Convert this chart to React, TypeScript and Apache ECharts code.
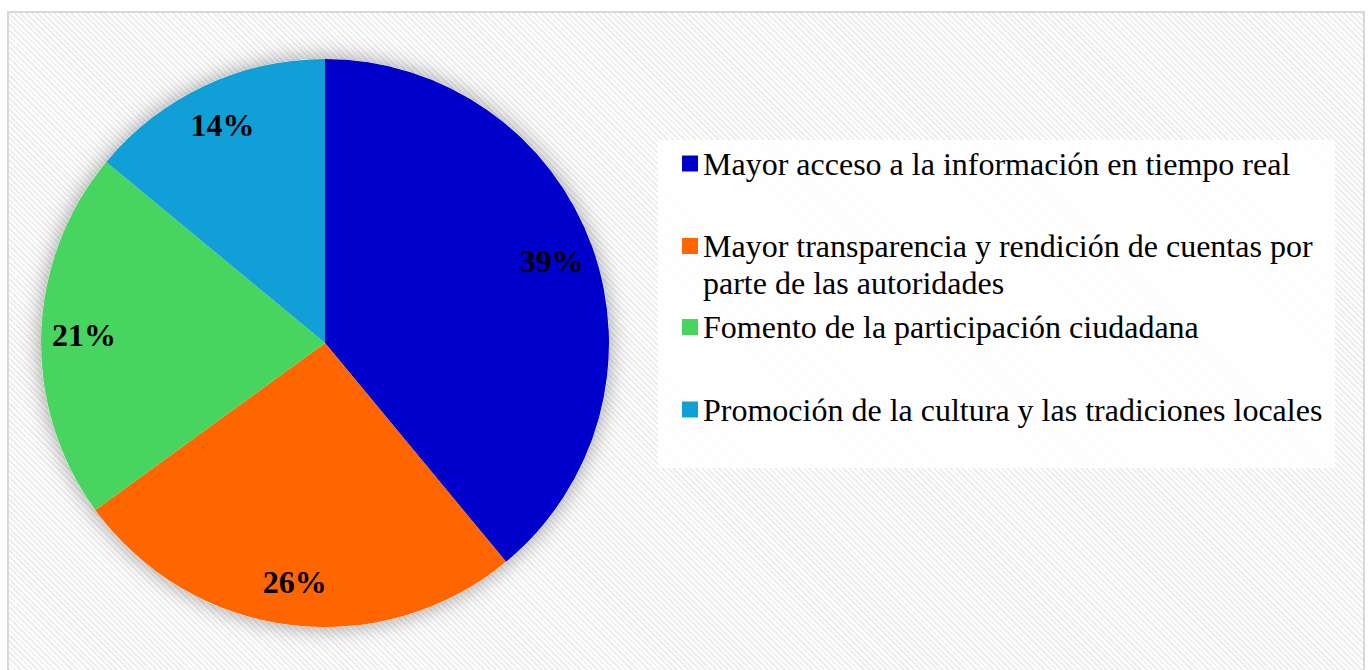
import React, { useEffect, useRef } from "react";
import * as echarts from "echarts";

// ---- data ----
const categories = [
  "Mayor acceso a la información en tiempo real",
  "Mayor transparencia y rendición de cuentas por parte de las autoridades",
  "Fomento de la participación ciudadana",
  "Promoción de la cultura y las tradiciones locales",
];
const legendLines = [
  ["Mayor acceso a la información en tiempo real"],
  ["Mayor transparencia y rendición de cuentas por", "parte de las autoridades"],
  ["Fomento de la participación ciudadana"],
  ["Promoción de la cultura y las tradiciones locales"],
];
const values = [39, 26, 21, 14];
const colors = ["#0000CC", "#FF6600", "#48D55F", "#119FD7"];

// ---- layout (page coords converted to chart coords) ----
const OX = 9;
const OY = 13;
const R = 284;
const CENTER = [325 - OX, 343 - OY];
const LABEL_INNER = 192;
const LEGEND_LEFT = 682 - OX;
const LEGEND_CENTERS = [163.5 - OY, 246 - OY, 327 - OY, 409.5 - OY];
const FONT = "'Liberation Serif', 'Times New Roman', serif";

export default function App() {
  const ref = useRef<HTMLDivElement>(null);

  useEffect(() => {
    if (!ref.current) return;
    const chart = echarts.init(ref.current, undefined, { renderer: "svg" });
    const total = values.reduce((a, b) => a + b, 0);

    const legends = categories.map((name, i) => {
      const twoLine = legendLines[i].length > 1;
      return {
        show: true,
        orient: "vertical",
        left: LEGEND_LEFT,
        top: LEGEND_CENTERS[i] - 18.5,
        padding: 0,
        data: [name],
        selectedMode: false,
        itemWidth: 16,
        itemHeight: twoLine ? 53 : 16,
        icon: twoLine ? "path://M0 0H16V16H0Z M0 53" : "rect",
        formatter: () => legendLines[i].join("\n"),
        textStyle: {
          fontFamily: FONT,
          fontSize: 32,
          lineHeight: 37,
          color: "#000",
        },
      };
    });

    chart.setOption({
      animation: false,
      backgroundColor: "transparent",
      graphic: [
        {
          type: "rect",
          left: 658 - OX,
          top: 140 - OY,
          shape: { width: 677, height: 328 },
          style: { fill: "rgba(255,255,255,0.88)" },
          z: -1,
          silent: true,
        },
      ],
      legend: legends,
      series: [
        {
          type: "pie",
          name: "bg",
          center: CENTER,
          radius: R,
          silent: true,
          z: 1,
          legendHoverLink: false,
          data: [{ value: total, name: "__bg" }],
          itemStyle: {
            color: "#ffffff",
            borderWidth: 0,
            shadowBlur: 22,
            shadowColor: "rgba(0,0,0,0.38)",
          },
          label: { show: false },
          labelLine: { show: false },
          emphasis: { disabled: true },
        },
        {
          type: "pie",
          name: "data",
          center: CENTER,
          radius: R,
          startAngle: 90,
          clockwise: true,
          z: 2,
          data: categories.map((n, i) => ({
            name: n,
            value: values[i],
            itemStyle: { color: colors[i] },
          })),
          itemStyle: { borderWidth: 0 },
          label: { show: false },
          labelLine: { show: false },
          emphasis: { disabled: true },
        },
        {
          type: "pie",
          name: "labels",
          center: CENTER,
          radius: [LABEL_INNER, R],
          startAngle: 90,
          clockwise: true,
          silent: true,
          z: 3,
          data: categories.map((n, i) => ({ name: n, value: values[i] })),
          itemStyle: { color: "rgba(0,0,0,0)", borderWidth: 0 },
          label: {
            show: true,
            position: "inside",
            formatter: "{d}%",
            fontFamily: FONT,
            fontWeight: "bold",
            fontSize: 32,
            color: "#000",
          },
          labelLine: { show: false },
          emphasis: { disabled: true },
        },
      ],
    });

    return () => chart.dispose();
  }, []);

  return (
    <div
      style={{
        position: "fixed",
        left: 7,
        top: 11,
        width: 1358,
        height: 670,
        boxSizing: "border-box",
        border: "2px solid #d9d9d9",
        background:
          "repeating-linear-gradient(45deg, #ffffff 0px, #ffffff 2px, #eeeeee 2px, #eeeeee 4px)",
      }}
    >
      <div ref={ref} style={{ width: 1354, height: 666 }} />
    </div>
  );
}
